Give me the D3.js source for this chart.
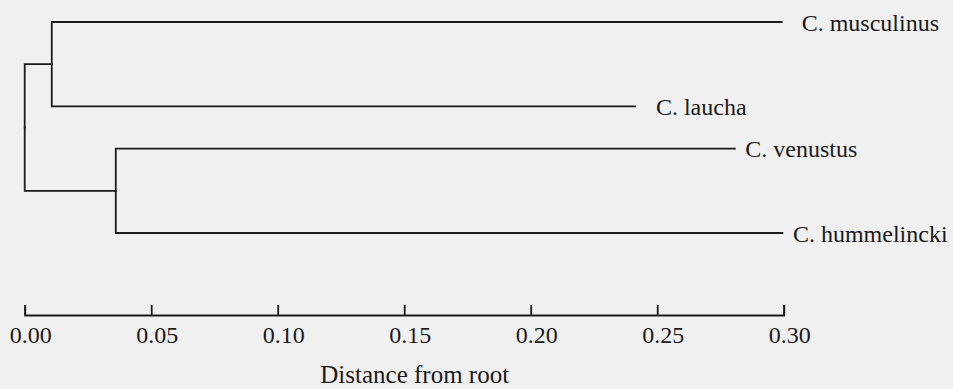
<!DOCTYPE html>
<html>
<head>
<meta charset="utf-8">
<script src="https://cdn.jsdelivr.net/npm/d3@7"></script>
<style>
  html, body { margin: 0; padding: 0; background: #f1f0f0; }
  svg { display: block; }
  text { font-family: "Liberation Serif", "Times New Roman", serif; fill: #1a1a1a; }
</style>
</head>
<body>
<svg id="chart"></svg>
<script>
/*** DATA ***/
// leaves, top to bottom, with distance from root of each tip
const taxa     = ["C. musculinus", "C. laucha", "C. venustus", "C. hummelincki"];
const tipDist  = [0.2992, 0.2412, 0.2807, 0.2995];
const tipRow   = [0, 2, 3, 5];            // vertical order slots
// internal nodes: which taxa they join, and their distance from root
const cladeNames   = ["musculinus+laucha", "venustus+hummelincki"];
const cladeMembers = [[0, 1], [2, 3]];
const cladeDist    = [0.0107, 0.0360];
const rootDist     = 0;
const tickValues   = [0, 0.05, 0.10, 0.15, 0.20, 0.25, 0.30];
const axisTitle    = "Distance from root";

/*** DIMENSIONS ***/
const W = 953, H = 389;
const svg = d3.select('#chart').attr('width', W).attr('height', H);

const x = d3.scaleLinear().domain([0, 0.30]).range([24.7, 783.7]);
const y = d3.scaleLinear().domain([0, 5]).range([22, 233]);

/*** BUILD TREE ***/
const treeData = {
  name: 'root', dist: rootDist,
  children: cladeNames.map((n, i) => ({
    name: n, dist: cladeDist[i],
    children: cladeMembers[i].map(j => ({ name: taxa[j], dist: tipDist[j], row: tipRow[j] }))
  }))
};
const root = d3.hierarchy(treeData);
// y of leaves from their row, internal nodes at the middle of their children
root.eachAfter(d => {
  d.px = x(d.data.dist);
  d.py = d.children ? d3.mean(d.children, c => c.py) : y(d.data.row);
});

/*** DRAW BRANCHES (elbows) ***/
const g = svg.append('g')
  .attr('fill', 'none')
  .attr('stroke', '#1a1a1a')
  .attr('stroke-width', 1.8)
  .attr('stroke-linecap', 'square');

g.selectAll('path.link')
  .data(root.links())
  .join('path')
    .attr('class', 'link')
    .attr('d', l => `M${l.source.px},${l.source.py}V${l.target.py}H${l.target.px}`);

/*** LEAF LABELS ***/
const labelGap = { "C. musculinus": 20, "C. laucha": 21, "C. venustus": 10.5, "C. hummelincki": 10.5 };
svg.append('g').selectAll('text')
  .data(root.leaves())
  .join('text')
    .attr('x', d => d.px + labelGap[d.data.name])
    .attr('y', d => d.py)
    .attr('dy', '0.37em')
    .attr('font-size', 24)
    .text(d => d.data.name);

/*** AXIS ***/
const axis = d3.axisBottom(x)
  .tickValues(tickValues)
  .tickFormat(d3.format('.2f'))
  .tickSizeInner(-10)
  .tickSizeOuter(-10)
  .tickPadding(11);

const ax = svg.append('g')
  .attr('transform', 'translate(0,315)')
  .call(axis);
ax.attr('font-family', null).attr('font-size', null);
ax.selectAll('path, line').attr('stroke', '#1a1a1a').attr('stroke-width', 1.8);
ax.selectAll('text')
  .attr('font-size', 24)
  .attr('fill', '#1a1a1a')
  .attr('dx', 5.5);

svg.append('text')
  .attr('x', 414.7)
  .attr('y', 383)
  .attr('text-anchor', 'middle')
  .attr('font-size', 25)
  .text(axisTitle);
</script>
</body>
</html>
